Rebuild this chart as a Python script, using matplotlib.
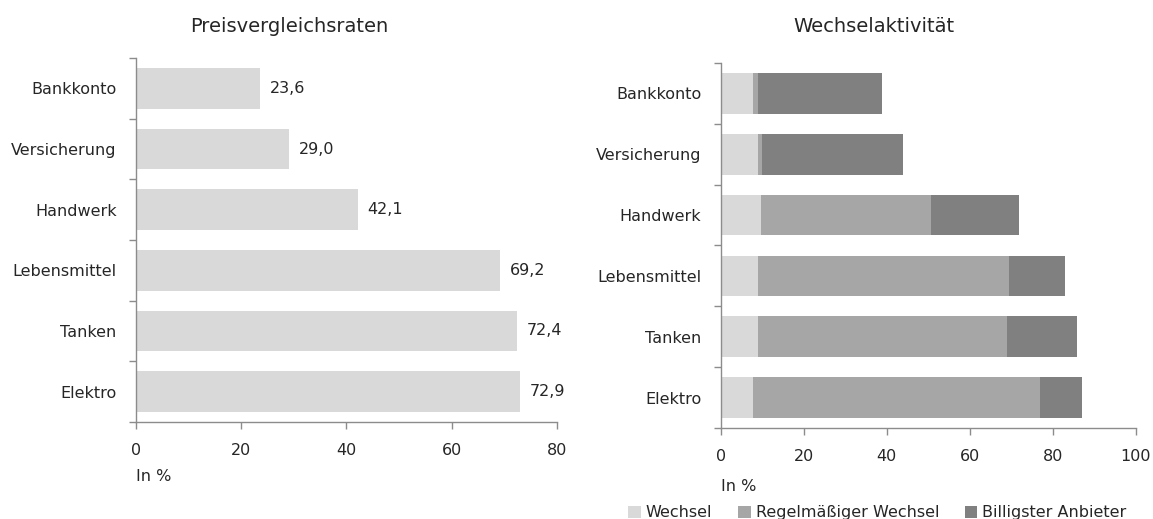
import matplotlib
matplotlib.use("Agg")
import matplotlib.pyplot as plt
import numpy as np

plt.rcParams['font.family'] = ['DejaVu Sans']

categories = ["Bankkonto", "Versicherung", "Handwerk", "Lebensmittel", "Tanken", "Elektro"]
preisvergleich = [23.6, 29.0, 42.1, 69.2, 72.4, 72.9]
wechsel = [7.8, 9.0, 9.8, 9.0, 9.0, 7.8]
regelmaessig = [1.1, 0.9, 41.0, 60.5, 60.0, 69.1]
billigster = [30.0, 34.1, 21.1, 13.4, 16.9, 10.1]
series_names = ["Wechsel", "Regelmäßiger Wechsel", "Billigster Anbieter"]
left_ticks = [0, 20, 40, 60, 80]
right_ticks = [0, 20, 40, 60, 80, 100]

text_color = "#262626"
axis_color = "#8c8c8c"
c_light, c_mid, c_dark = "#D9D9D9", "#A6A6A6", "#808080"
fs = 11.5

fig = plt.figure(figsize=(11.53, 5.19), dpi=100)
ax1 = fig.add_axes([0.118, 0.187, 0.365, 0.701])
ax2 = fig.add_axes([0.625, 0.175, 0.360, 0.704])

n = len(categories)
y = np.arange(n)

def style(ax, xmax, ticks):
    ax.set_ylim(n - 0.5, -0.5)
    ax.set_xlim(0, xmax)
    ax.set_xticks(ticks)
    ax.set_xticklabels([str(t) for t in ticks], fontsize=fs, color=text_color)
    ax.set_yticks(y)
    ax.set_yticklabels(categories, fontsize=fs, color=text_color)
    ax.set_yticks(np.arange(n + 1) - 0.5, minor=True)
    ax.tick_params(axis='y', which='major', length=0, pad=14)
    ax.tick_params(axis='y', which='minor', length=5, color=axis_color, width=1)
    ax.tick_params(axis='x', length=5, color=axis_color, width=1, pad=10)
    for s in ['top', 'right']:
        ax.spines[s].set_visible(False)
    for s in ['left', 'bottom']:
        ax.spines[s].set_color(axis_color)
        ax.spines[s].set_linewidth(1)

h = 0.67
ax1.barh(y, preisvergleich, height=h, color=c_light)
for yi, v in zip(y, preisvergleich):
    ax1.text(v + 1.9, yi, f"{v:.1f}".replace('.', ','), va='center', ha='left',
             fontsize=fs, color=text_color)
style(ax1, 80, left_ticks)
fig.text(289 / 1153, 1 - 27 / 519, "Preisvergleichsraten", fontsize=14, color=text_color,
         ha='center', va='center')
ax1.text(0, -0.128, "In %", transform=ax1.transAxes, fontsize=fs, color=text_color,
         ha='left', va='top')

left = np.zeros(n)
for vals, col, name in zip([wechsel, regelmaessig, billigster], [c_light, c_mid, c_dark], series_names):
    ax2.barh(y, vals, left=left, height=h, color=col, label=name)
    left = left + np.array(vals)
style(ax2, 100, right_ticks)
fig.text(874 / 1153, 1 - 27 / 519, "Wechselaktivität", fontsize=14, color=text_color,
         ha='center', va='center')
ax2.text(0, -0.14, "In %", transform=ax2.transAxes, fontsize=fs, color=text_color,
         ha='left', va='top')

fig.legend(loc='lower center', bbox_to_anchor=(0.761, -0.03), ncol=3, frameon=False,
           fontsize=fs, handlelength=0.8, handleheight=0.8, columnspacing=1.6,
           handletextpad=0.3, labelcolor=text_color)

fig.savefig("out.png", dpi=100, facecolor='white')
